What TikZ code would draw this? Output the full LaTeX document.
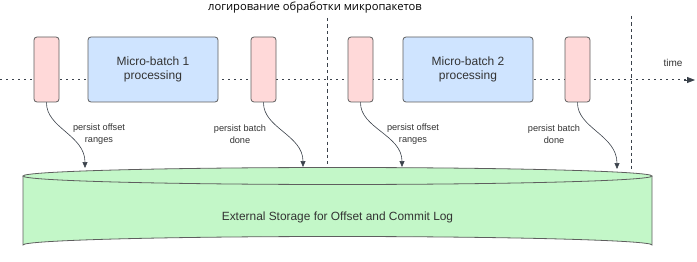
\documentclass[tikz,border=0pt]{standalone}
\usepackage{fontspec}
\setmainfont{Liberation Sans}
\newfontfamily\titlefont{Open Sans}
\usetikzlibrary{arrows.meta}
\definecolor{pinkf}{HTML}{FFD9D9}
\definecolor{bluef}{HTML}{CFE4FF}
\definecolor{greenf}{HTML}{C3F7C8}
\definecolor{edgec}{HTML}{5E5E5E}
\definecolor{txtc}{HTML}{333333}
\definecolor{linec}{HTML}{3A414A}
\tikzset{
  pinkbox/.style={draw=edgec, line width=0.8pt, fill=pinkf, rounded corners=3pt, minimum width=25pt, minimum height=65pt, inner sep=0pt},
  bluebox/.style={draw=edgec, line width=0.8pt, fill=bluef, rounded corners=3pt, minimum width=130pt, minimum height=65pt, inner sep=0pt, align=center, text=txtc, font=\fontsize{12}{14.5}\selectfont},
  lbl/.style={align=center, text=txtc, font=\fontsize{9.2}{11.5}\selectfont, inner sep=0pt},
  persist/.style={draw=linec, line width=0.6pt, -{Triangle[width=5pt,length=6pt]}},
  timeline/.style={draw=linec, line width=1pt, dash pattern=on 2pt off 4pt},
  sep/.style={draw=linec, line width=0.8pt, dash pattern=on 3.5pt off 3pt},
}
\begin{document}
\begin{tikzpicture}[x=1pt,y=-1pt]
\useasboundingbox (0,0) rectangle (697,262);
% title
\node[font=\titlefont\fontsize{11.2}{13}\selectfont, text=black, inner sep=0pt] (title) at (315,8) {логирование обработки микропакетов};
% separators
\coordinate (s1t) at (327,18); \coordinate (s1b) at (327,164);
\coordinate (s2t) at (631,16); \coordinate (s2b) at (631,172);
\draw[sep] (s1t) -- (s1b);
\draw[sep] (s2t) -- (s2b);
% time line
\coordinate (tl0) at (0,80); \coordinate (tl1) at (695,80);
\draw[timeline] (tl0) -- (686,80);
\draw[linec, line width=0.8pt, -{Triangle[width=6pt,length=8pt]}] (684,80) -- (tl1);
\node[text=txtc, font=\fontsize{10}{12}\selectfont, inner sep=0pt] (time) at (673,63) {time};
% boxes
\node[pinkbox] (p1) at (46.5,69.5) {};
\node[bluebox] (b1) at (153,69.5) {Micro-batch 1\\processing};
\node[pinkbox] (p2) at (263.5,69.5) {};
\node[pinkbox] (p3) at (360.5,69.5) {};
\node[bluebox] (b2) at (468,69.5) {Micro-batch 2\\processing};
\node[pinkbox] (p4) at (577.5,69.5) {};
% cylinder
\fill[greenf] (23,176) -- (23,245) arc[start angle=180, end angle=360, x radius=314.5, y radius=8.5] -- (652,176) -- cycle;
\draw[edgec, line width=0.8pt] (23,176) -- (23,245) arc[start angle=180, end angle=360, x radius=314.5, y radius=8.5] -- (652,176);
\draw[edgec, line width=0.8pt, fill=greenf] (337.5,176) ellipse[x radius=314.5, y radius=8.5];
\node[text=txtc, font=\fontsize{11.9}{14}\selectfont, inner sep=0pt] (store) at (337.5,217) {External Storage for Offset and Commit Log};
% arrow targets on the cylinder top
\coordinate (t1) at (85,168);
\coordinate (t2) at (303,167);
\coordinate (t3) at (402,167);
\coordinate (t4) at (617,169);
% arrows
\draw[persist] (p1.south) .. controls (46,128) and (85,135) .. (t1);
\draw[persist] (p2.south) .. controls (263,128) and (303,135) .. (t2);
\draw[persist] (p3.south) .. controls (360,128) and (402,135) .. (t3);
\draw[persist] (p4.south) .. controls (577,128) and (617,135) .. (t4);
% labels
\node[lbl] (l1) at (99,134) {persist offset\\ranges};
\node[lbl] (l2) at (240,134) {persist batch\\done};
\node[lbl] (l3) at (413,134) {persist offset\\ranges};
\node[lbl] (l4) at (554,134) {persist batch\\done};
\end{tikzpicture}
\end{document}
